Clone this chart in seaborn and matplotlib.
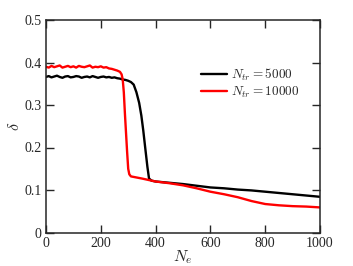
import pandas as pd
import matplotlib
matplotlib.use("Agg")
import matplotlib.pyplot as plt
import seaborn as sns

# ── Data ──────────────────────────────────────────────────
ne_5000 = [0, 10, 20, 30, 40, 50, 60, 70, 80, 90, 100, 110, 120, 130, 140,
           150, 160, 170, 180, 190, 200, 210, 220, 230, 240, 250, 260, 270,
           280, 290, 300, 310, 320, 330, 340, 348, 355, 362, 370, 376, 385,
           400, 450, 500, 550, 600, 650, 700, 750, 800, 850, 900, 950, 1000]
delta_5000 = [0.366, 0.368, 0.365, 0.367, 0.369, 0.366, 0.364, 0.367, 0.368,
              0.365, 0.366, 0.368, 0.367, 0.364, 0.366, 0.367, 0.365, 0.368,
              0.366, 0.364, 0.366, 0.367, 0.365, 0.366, 0.364, 0.365, 0.363,
              0.362, 0.360, 0.359, 0.357, 0.354, 0.348, 0.330, 0.305, 0.275,
              0.240, 0.200, 0.155, 0.127, 0.122, 0.120, 0.117, 0.114, 0.110,
              0.106, 0.104, 0.101, 0.099, 0.096, 0.093, 0.090, 0.087, 0.084]

ne_10000 = [0, 10, 20, 30, 40, 50, 60, 70, 80, 90, 100, 110, 120, 130, 140,
            150, 160, 170, 180, 190, 200, 210, 220, 230, 240, 250, 260, 270,
            276, 280, 284, 288, 292, 296, 300, 304, 310, 350, 400, 450, 500,
            550, 600, 650, 700, 750, 800, 850, 900, 950, 1000]
delta_10000 = [0.390, 0.388, 0.392, 0.389, 0.391, 0.393, 0.388, 0.390, 0.392,
               0.389, 0.391, 0.388, 0.392, 0.390, 0.389, 0.391, 0.393, 0.388,
               0.390, 0.389, 0.391, 0.388, 0.389, 0.386, 0.385, 0.383, 0.381,
               0.378, 0.372, 0.360, 0.330, 0.280, 0.235, 0.190, 0.150, 0.137,
               0.132, 0.127, 0.120, 0.116, 0.111, 0.104, 0.096, 0.090, 0.083,
               0.074, 0.067, 0.064, 0.062, 0.061, 0.059]

labels = [r"$N_{tr} = 5000$", r"$N_{tr} = 10000$"]
colors = ["black", "red"]

df = pd.concat([
    pd.DataFrame({"Ne": ne_5000, "delta": delta_5000, "series": labels[0]}),
    pd.DataFrame({"Ne": ne_10000, "delta": delta_10000, "series": labels[1]}),
])

# ── Style ─────────────────────────────────────────────────
sns.set_style("ticks")
plt.rcParams["font.family"] = ["Liberation Serif", "DejaVu Serif"]
plt.rcParams["mathtext.fontset"] = "cm"
plt.rcParams["xtick.direction"] = "in"
plt.rcParams["ytick.direction"] = "in"
plt.rcParams["xtick.top"] = True
plt.rcParams["ytick.right"] = True

fig, ax = plt.subplots(figsize=(3.53, 2.66), dpi=100)
fig.subplots_adjust(left=46 / 353, right=320 / 353, top=1 - 20 / 266,
                    bottom=1 - 232.5 / 266)

sns.lineplot(data=df, x="Ne", y="delta", hue="series", palette=colors,
             estimator=None, sort=False, lw=1.7, ax=ax)

ax.set_xlim(0, 1000)
ax.set_ylim(0, 0.5)
ax.set_xticks([0, 200, 400, 600, 800, 1000])
ax.set_yticks([0, 0.1, 0.2, 0.3, 0.4, 0.5])
ax.set_yticklabels(["0", "0.1", "0.2", "0.3", "0.4", "0.5"])
ax.tick_params(length=5.5, width=1, labelsize=10, pad=3)
for s in ax.spines.values():
    s.set_linewidth(1.1)

ax.set_xlabel(r"$N_e$", fontsize=11.5, labelpad=-1)
ax.set_ylabel(r"$\delta$", fontsize=11.5, labelpad=1)

ax.legend(title=None, frameon=False, loc="center left",
          bbox_to_anchor=(0.566, 0.703), borderaxespad=0, borderpad=0,
          handlelength=2.0, handletextpad=0.3, labelspacing=0.15,
          fontsize=9.5)

fig.savefig("out.png", dpi=100)
plt.close(fig)
